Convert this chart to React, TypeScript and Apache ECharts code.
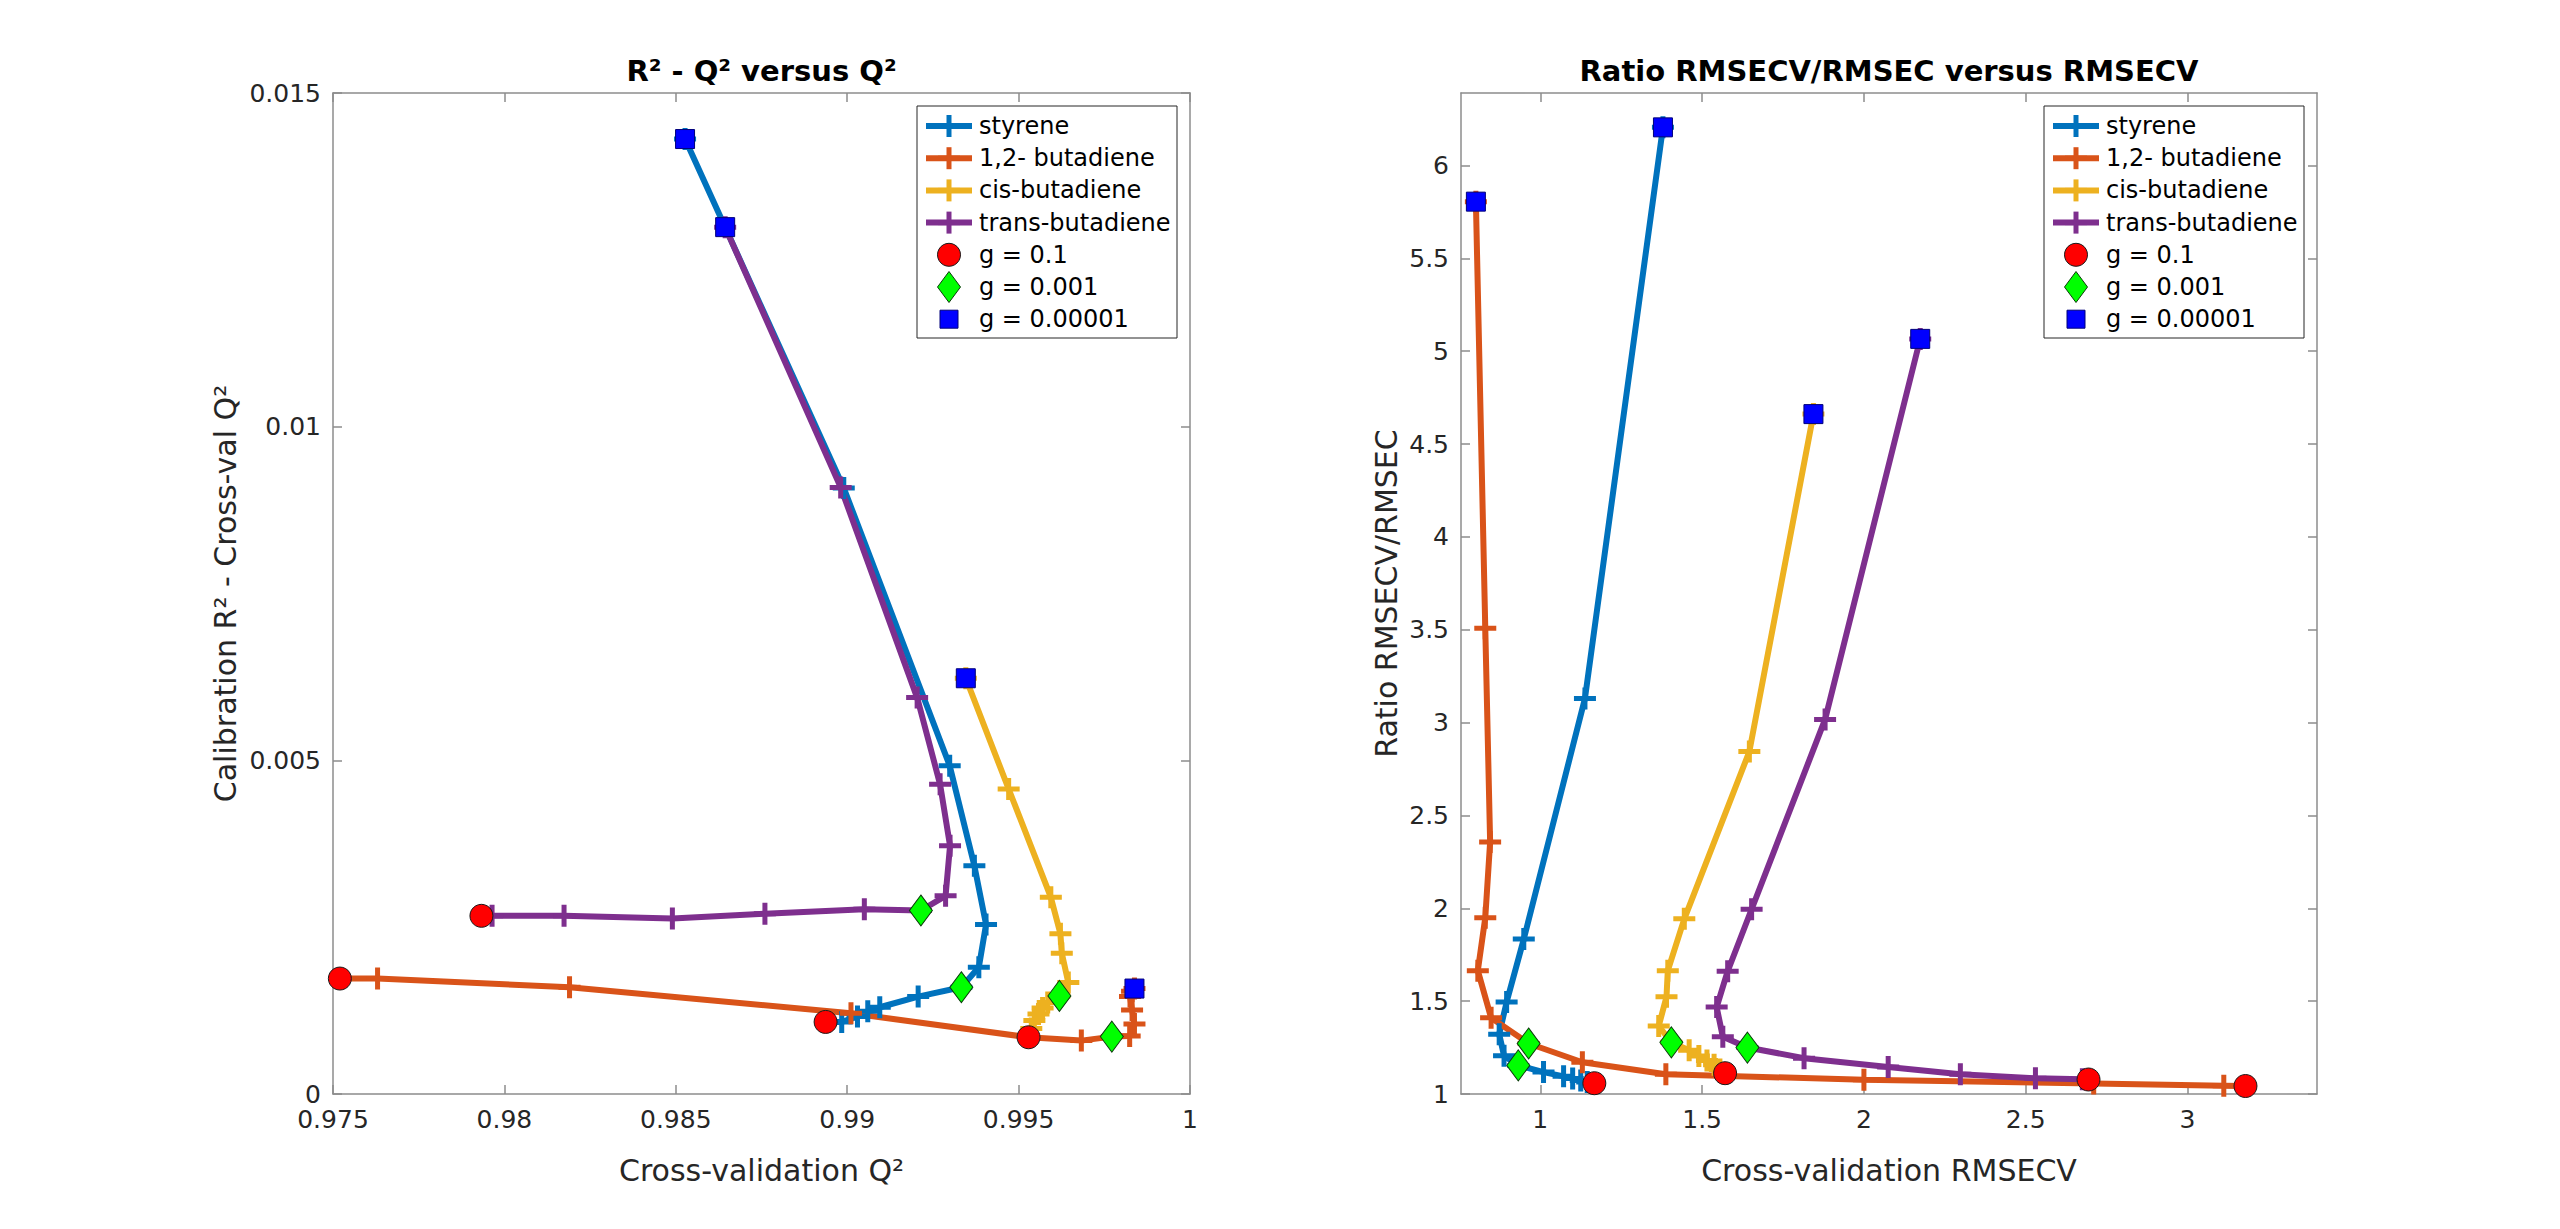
import React, { useEffect, useRef } from "react";
import * as echarts from "echarts";

// ---------------- data ----------------
const compounds = ["styrene", "1,2- butadiene", "cis-butadiene", "trans-butadiene"];
const compoundColors = ["#0072BD", "#D95319", "#EDB120", "#7E2F8E"];
const gLabels = ["g = 0.1", "g = 0.001", "g = 0.00001"];
// position of g = 0.1, 0.001, 0.00001 within each 13-step sweep
const gIndex = [12, 6, 0];

// Left panel: x = Cross-validation Q², y = Calibration R² - Cross-val Q²
const styreneQ2 = [0.98527, 0.9899, 0.99299, 0.99371, 0.99405, 0.99384, 0.99333, 0.99207, 0.99095, 0.9906, 0.9903, 0.98984, 0.98937];
const styreneDiff = [0.01431, 0.00908, 0.00492, 0.00342, 0.00254, 0.0019, 0.0016, 0.00146, 0.0013, 0.00124, 0.00116, 0.00108, 0.00108];
const butadiene12Q2 = [0.99838, 0.99831, 0.99825, 0.99831, 0.99838, 0.99824, 0.99772, 0.99683, 0.99529, 0.99011, 0.9819, 0.9763, 0.9752];
const butadiene12Diff = [0.00158, 0.00154, 0.00146, 0.00126, 0.00105, 0.00087, 0.00086, 0.0008, 0.00085, 0.00121, 0.0016, 0.00173, 0.00173];
const cisQ2 = [0.99346, 0.99471, 0.99594, 0.99622, 0.99626, 0.99645, 0.99619, 0.99585, 0.9957, 0.99558, 0.99546, 0.99537, 0.99529];
const cisDiff = [0.00623, 0.00457, 0.00295, 0.0024, 0.00211, 0.00167, 0.00147, 0.00137, 0.00129, 0.0012, 0.0011, 0.00098, 0.00085];
const transQ2 = [0.98644, 0.98981, 0.99204, 0.99271, 0.993, 0.99287, 0.99215, 0.9905, 0.9876, 0.9849, 0.98174, 0.97964, 0.97933];
const transDiff = [0.01299, 0.00909, 0.00594, 0.00464, 0.00372, 0.00297, 0.00275, 0.00277, 0.0027, 0.00263, 0.00267, 0.00267, 0.00267];

// Right panel: x = Cross-validation RMSECV, y = Ratio RMSECV/RMSEC
const styreneRMSECV = [1.379, 1.138, 0.949, 0.896, 0.873, 0.888, 0.932, 1.01, 1.072, 1.1, 1.125, 1.145, 1.167];
const styreneRatio = [6.205, 3.13, 1.834, 1.495, 1.322, 1.206, 1.154, 1.118, 1.095, 1.083, 1.073, 1.064, 1.058];
const butadiene12RMSECV = [0.801, 0.83, 0.845, 0.83, 0.807, 0.848, 0.964, 1.13, 1.388, 2.0, 2.71, 3.112, 3.179];
const butadiene12Ratio = [5.805, 3.508, 2.357, 1.949, 1.664, 1.41, 1.272, 1.171, 1.106, 1.077, 1.057, 1.045, 1.043];
const cisRMSECV = [1.844, 1.646, 1.445, 1.394, 1.39, 1.366, 1.405, 1.46, 1.49, 1.515, 1.537, 1.555, 1.571];
const cisRatio = [4.661, 2.844, 1.943, 1.664, 1.524, 1.366, 1.278, 1.235, 1.205, 1.18, 1.158, 1.132, 1.112];
const transRMSECV = [2.174, 1.88, 1.653, 1.579, 1.545, 1.564, 1.64, 1.815, 2.075, 2.298, 2.53, 2.675, 2.694];
const transRatio = [5.066, 3.017, 1.995, 1.661, 1.468, 1.308, 1.25, 1.193, 1.145, 1.106, 1.085, 1.08, 1.078];

// tick labels
const leftXTicks = [0.975, 0.98, 0.985, 0.99, 0.995, 1];
const leftYTicks = [0, 0.005, 0.01, 0.015];
const rightXTicks = [1, 1.5, 2, 2.5, 3];
const rightYTicks = [1, 1.5, 2, 2.5, 3, 3.5, 4, 4.5, 5, 5.5, 6];

// ---------------- styling ----------------
const FONT = "DejaVu Sans";
const AXIS_GRAY = "#8c8c8c";
const TEXT_DARK = "#262626";
const PLUS = "path://M-2.5,-11L2.5,-11L2.5,-2.5L11,-2.5L11,2.5L2.5,2.5L2.5,11L-2.5,11L-2.5,2.5L-11,2.5L-11,-2.5L-2.5,-2.5Z";
const DIAMOND = "path://M0,-15.5L11.5,0L0,15.5L-11.5,0Z";
const markerStyles = [
  { symbol: "circle", size: 23 as any, fill: "#FF0000", border: "#1a1a1a" },
  { symbol: DIAMOND, size: [23, 31] as any, fill: "#00FF00", border: "#0b3b0b" },
  { symbol: "rect", size: 19 as any, fill: "#0000FF", border: "#00007a" },
];

const fmt = (v: number) => String(parseFloat(Number(v).toFixed(6)));

function xAxes(gridIndex: number, min: number, max: number, ticks: number[], name: string, nameGap: number) {
  const base = {
    type: "value",
    gridIndex,
    min,
    max,
    axisLine: { show: true, onZero: false, lineStyle: { color: AXIS_GRAY, width: 1.5 } },
    axisTick: { show: true, inside: true, length: 9, customValues: ticks, lineStyle: { color: AXIS_GRAY, width: 1.5 } },
    splitLine: { show: false },
  };
  return [
    {
      ...base,
      position: "bottom",
      name,
      nameLocation: "middle",
      nameGap,
      nameTextStyle: { fontFamily: FONT, fontSize: 30, color: TEXT_DARK },
      axisLabel: {
        show: true, customValues: ticks, formatter: fmt, fontFamily: FONT, fontSize: 25,
        color: TEXT_DARK, margin: 13, showMinLabel: true, showMaxLabel: true, hideOverlap: false,
      },
    },
    { ...base, position: "top", axisLabel: { show: false } },
  ];
}

function yAxes(gridIndex: number, min: number, max: number, ticks: number[], name: string, nameGap: number) {
  const base = {
    type: "value",
    gridIndex,
    min,
    max,
    axisLine: { show: true, onZero: false, lineStyle: { color: AXIS_GRAY, width: 1.5 } },
    axisTick: { show: true, inside: true, length: 9, customValues: ticks, lineStyle: { color: AXIS_GRAY, width: 1.5 } },
    splitLine: { show: false },
  };
  return [
    {
      ...base,
      position: "left",
      name,
      nameLocation: "middle",
      nameGap,
      nameTextStyle: { fontFamily: FONT, fontSize: 30, color: TEXT_DARK },
      axisLabel: {
        show: true, customValues: ticks, formatter: fmt, fontFamily: FONT, fontSize: 25,
        color: TEXT_DARK, margin: 12, showMinLabel: true, showMaxLabel: true, hideOverlap: false,
      },
    },
    { ...base, position: "right", axisLabel: { show: false } },
  ];
}

function panelSeries(panel: number, xs: number[][], ys: number[][]) {
  const axisIdx = panel * 2;
  const out: any[] = [];
  compounds.forEach((name, s) => {
    out.push({
      type: "line",
      name,
      xAxisIndex: axisIdx,
      yAxisIndex: axisIdx,
      data: xs[s].map((x, i) => [x, ys[s][i]]),
      symbol: PLUS,
      symbolSize: 22,
      showSymbol: true,
      lineStyle: { color: compoundColors[s], width: 6 },
      itemStyle: { color: compoundColors[s] },
      z: 3,
      silent: true,
      clip: false,
      emphasis: { disabled: true },
    });
  });
  gLabels.forEach((name, k) => {
    const m = markerStyles[k];
    out.push({
      type: "scatter",
      name,
      xAxisIndex: axisIdx,
      yAxisIndex: axisIdx,
      data: xs.map((arr, s) => [arr[gIndex[k]], ys[s][gIndex[k]]]),
      symbol: m.symbol,
      symbolSize: m.size,
      itemStyle: { color: m.fill, borderColor: m.border, borderWidth: 1, opacity: 1 },
      z: 5 + k,
      silent: true,
      clip: false,
      emphasis: { disabled: true },
    });
  });
  return out;
}

function legendGraphic(L: number, T: number) {
  const els: any[] = [];
  const W = 260;
  const H = 232;
  const step = 32.2;
  const cx = L + 32;
  els.push({ type: "rect", z: 100, shape: { x: L, y: T, width: W, height: H }, style: { fill: "#ffffff", stroke: "#262626", lineWidth: 1 } });
  compounds.forEach((name, i) => {
    const cy = T + 20 + i * step;
    const c = compoundColors[i];
    els.push({ type: "line", z: 101, shape: { x1: L + 9, y1: cy, x2: L + 55, y2: cy }, style: { stroke: c, lineWidth: 6 } });
    els.push({ type: "rect", z: 102, shape: { x: cx - 11, y: cy - 2.5, width: 22, height: 5 }, style: { fill: c } });
    els.push({ type: "rect", z: 102, shape: { x: cx - 2.5, y: cy - 11, width: 5, height: 22 }, style: { fill: c } });
    els.push({ type: "text", z: 102, x: L + 62, y: cy, style: { text: name, fontFamily: FONT, fontSize: 24, fill: "#000", align: "left", verticalAlign: "middle" } });
  });
  gLabels.forEach((name, k) => {
    const cy = T + 20 + (k + 4) * step;
    const m = markerStyles[k];
    if (k === 0) {
      els.push({ type: "circle", z: 102, shape: { cx, cy, r: 11.5 }, style: { fill: m.fill, stroke: m.border, lineWidth: 1 } });
    } else if (k === 1) {
      els.push({ type: "polygon", z: 102, shape: { points: [[cx, cy - 15.5], [cx + 11.5, cy], [cx, cy + 15.5], [cx - 11.5, cy]] }, style: { fill: m.fill, stroke: m.border, lineWidth: 1 } });
    } else {
      els.push({ type: "rect", z: 102, shape: { x: cx - 9, y: cy - 9, width: 18, height: 18 }, style: { fill: m.fill, stroke: m.border, lineWidth: 1 } });
    }
    els.push({ type: "text", z: 102, x: L + 62, y: cy, style: { text: name, fontFamily: FONT, fontSize: 24, fill: "#000", align: "left", verticalAlign: "middle" } });
  });
  return els;
}

export default function App() {
  const ref = useRef<HTMLDivElement>(null);
  useEffect(() => {
    if (!ref.current) return;
    const chart = echarts.init(ref.current, undefined, { renderer: "svg" });
    const leftX = [styreneQ2, butadiene12Q2, cisQ2, transQ2];
    const leftY = [styreneDiff, butadiene12Diff, cisDiff, transDiff];
    const rightX = [styreneRMSECV, butadiene12RMSECV, cisRMSECV, transRMSECV];
    const rightY = [styreneRatio, butadiene12Ratio, cisRatio, transRatio];

    const option: any = {
      animation: false,
      backgroundColor: "#ffffff",
      textStyle: { fontFamily: FONT },
      title: [
        {
          text: "R² - Q² versus Q²",
          left: 761.5,
          top: 56,
          textAlign: "center",
          padding: 0,
          textStyle: { fontFamily: FONT, fontSize: 29, fontWeight: "bold", color: "#000" },
        },
        {
          text: "Ratio RMSECV/RMSEC versus RMSECV",
          left: 1889,
          top: 56,
          textAlign: "center",
          padding: 0,
          textStyle: { fontFamily: FONT, fontSize: 29, fontWeight: "bold", color: "#000" },
        },
      ],
      grid: [
        { left: 333, top: 93, width: 857, height: 1001, containLabel: false },
        { left: 1461, top: 93, width: 856, height: 1001, containLabel: false },
      ],
      xAxis: [
        ...xAxes(0, 0.975, 1, leftXTicks, "Cross-validation Q²", 61),
        ...xAxes(1, 0.755, 3.4, rightXTicks, "Cross-validation RMSECV", 61),
      ],
      yAxis: [
        ...yAxes(0, 0, 0.015, leftYTicks, "Calibration R² - Cross-val Q²", 93),
        ...yAxes(1, 1, 6.39, rightYTicks, "Ratio RMSECV/RMSEC", 60),
      ],
      series: [...panelSeries(0, leftX, leftY), ...panelSeries(1, rightX, rightY)],
      graphic: [...legendGraphic(917, 106), ...legendGraphic(2044, 106)],
    };
    chart.setOption(option);
    return () => chart.dispose();
  }, []);
  return (
    <div
      ref={ref}
      style={{ position: "fixed", left: 0, top: 0, width: "2560px", height: "1229px", background: "#fff" }}
    />
  );
}
